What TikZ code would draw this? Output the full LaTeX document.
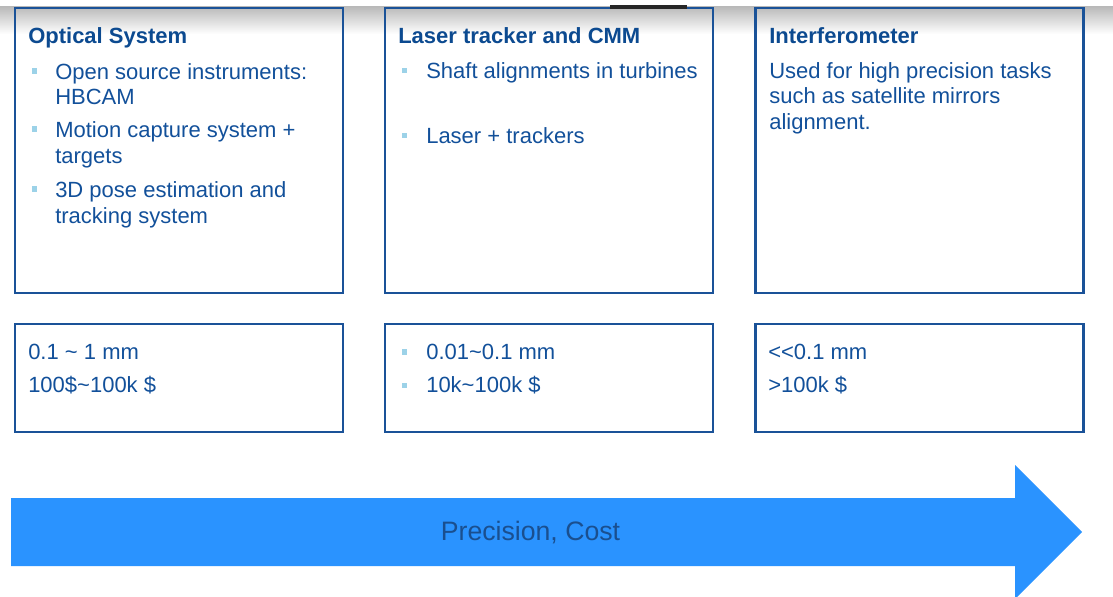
\documentclass[tikz,border=0pt]{standalone}
\usepackage{fontspec}
\setmainfont{Liberation Sans}
\usetikzlibrary{shapes.misc}
\definecolor{boxblue}{HTML}{1A5298}
\definecolor{txtblue}{HTML}{12509A}
\definecolor{titleblue}{HTML}{0C4A90}
\definecolor{bulletblue}{HTML}{9CD2E8}
\definecolor{arrowblue}{HTML}{2A93FF}
\definecolor{arrowtxt}{HTML}{1A4F8F}
\tikzset{
  panel/.style={draw=boxblue, line width=1.6pt, rectangle, inner sep=0pt},
  toppanel/.style={panel, minimum width=246pt, minimum height=213.75pt},
  lowpanel/.style={panel, minimum width=246pt, minimum height=81pt},
  title/.style={anchor=base west, inner sep=0pt, text=titleblue, font=\fontsize{16.5}{19.5}\selectfont\bfseries},
  body/.style={anchor=base west, inner sep=0pt, text=txtblue, font=\fontsize{16.5}{19.5}\selectfont},
  bul/.style={fill=bulletblue, draw=none, minimum size=3.8pt, inner sep=0pt, rectangle},
  arrowlabel/.style={anchor=base, inner sep=0pt, text=arrowtxt, font=\fontsize{20}{24}\selectfont}
}
\begin{document}
\begin{tikzpicture}[x=0.75pt,y=-0.75pt]
\useasboundingbox (0,0) rectangle (1113,596);
% top shadow band
\shade[top color=black!28, bottom color=white, draw=none] (0,6) rectangle (1113,34);
% panels
\node[toppanel] (p1) at (179,150.5) {};
\node[toppanel] (p2) at (549,150.5) {};
\node[toppanel] (p3) at (919.5,150.5) {};
\node[lowpanel] (q1) at (179,378) {};
\node[lowpanel] (q2) at (549,378) {};
\node[lowpanel] (q3) at (919.5,378) {};
\fill[black!85] (610,5) rectangle (687,8.6);
% panel 1
\node[title] (t1) at (28,43) {Optical System};
\node[bul] (b11) at (34.5,71) {};
\node[body] (l11) at (55,79) {Open source instruments:};
\node[body] (l12) at (55,104) {HBCAM};
\node[bul] (b12) at (34.5,129) {};
\node[body] (l13) at (55,137) {Motion capture system +};
\node[body] (l14) at (55,163) {targets};
\node[bul] (b13) at (34.5,189) {};
\node[body] (l15) at (55,197) {3D pose estimation and};
\node[body] (l16) at (55,223) {tracking system};
% panel 2
\node[title] (t2) at (398,43) {Laser tracker and CMM};
\node[bul] (b21) at (404.5,70.5) {};
\node[body] (l21) at (426,78) {Shaft alignments in turbines};
\node[bul] (b22) at (404.5,135.5) {};
\node[body] (l22) at (426,143) {Laser + trackers};
% panel 3
\node[title] (t3) at (769,43) {Interferometer};
\node[body] (l31) at (769,78) {Used for high precision tasks};
\node[body] (l32) at (769,103.5) {such as satellite mirrors};
\node[body] (l33) at (769,129) {alignment.};
% lower panels
\node[body] (m11) at (28,359) {0.1 \textasciitilde\ 1 mm};
\node[body] (m12) at (28,392) {100\$\textasciitilde 100k \$};
\node[bul] (c21) at (404.5,352) {};
\node[body] (m21) at (426,359) {0.01\textasciitilde 0.1 mm};
\node[bul] (c22) at (404.5,385.5) {};
\node[body] (m22) at (426,392) {10k\textasciitilde 100k \$};
\node[body] (m31) at (768,359) {<\kern0pt<0.1 mm};
\node[body] (m32) at (768,392) {>100k \$};
% arrow
\fill[arrowblue] (11,498) -- (1015,498) -- (1015,465) -- (1082,532) -- (1015,599) -- (1015,566) -- (11,566) -- cycle;
\node[arrowlabel] (al) at (530.5,540) {Precision, Cost};
\end{tikzpicture}
\end{document}
